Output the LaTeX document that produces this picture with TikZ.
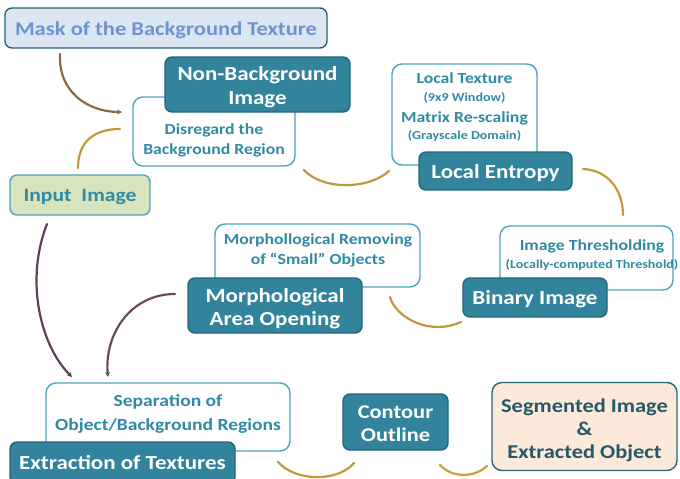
\documentclass[tikz,border=0pt]{standalone}
\usepackage{fontspec}
\setmainfont{Carlito}[FakeStretch=1.15]
\usetikzlibrary{arrows.meta}
\definecolor{tealD}{HTML}{31849B}
\definecolor{tealB}{HTML}{23667A}
\definecolor{tealL}{HTML}{4BA3BC}
\definecolor{tealT}{HTML}{2F8AA3}
\definecolor{maskfill}{HTML}{DCE6F2}
\definecolor{masktext}{HTML}{6F93D0}
\definecolor{inputfill}{HTML}{D7E4BD}
\definecolor{segfill}{HTML}{FDE9D9}
\definecolor{segtext}{HTML}{215968}
\definecolor{goldC}{HTML}{C39A3A}
\definecolor{brownC}{HTML}{8E6A3E}
\definecolor{purpC}{HTML}{5E3F5C}
\begin{document}
\begin{tikzpicture}[x=1pt,y=-1pt,
  darkbox/.style={fill=tealD,draw=tealB,line width=1.4pt,rounded corners=7pt,inner sep=0pt},
  dtext/.style={text=white,font=\bfseries\fontsize{20}{23.5}\selectfont,align=center,inner sep=0pt},
  whitebox/.style={fill=white,draw=tealL,line width=1.4pt,rounded corners=10pt,inner sep=0pt},
  wtext/.style={text=tealT,font=\bfseries\fontsize{15.4}{20}\selectfont,align=center,inner sep=0pt},
  stext/.style={text=tealT,font=\bfseries\fontsize{12.2}{14}\selectfont,align=center,inner sep=0pt},
  conn/.style={line width=2.2pt,line cap=round},
  tip/.style={-{Stealth[length=5pt,width=5pt]}}
]
\useasboundingbox (0,0) rectangle (680,479);

% connectors
\coordinate (a1) at (60,54); \coordinate (a2) at (122,112);
\draw[conn,brownC,tip] (a1) .. controls (58,92) and (88,112) .. (a2);
\coordinate (b1) at (78,168); \coordinate (b2) at (120,129);
\draw[conn,goldC] (b1) .. controls (78,140) and (96,129) .. (b2);
\coordinate (c1) at (304,170); \coordinate (c2) at (389,171);
\draw[conn,goldC!85!brown] (c1) .. controls (322,190) and (368,190) .. (c2);
\coordinate (d1) at (583,169); \coordinate (d2) at (623,215);
\draw[conn,goldC] (d1) .. controls (608,170) and (623,190) .. (d2);
\coordinate (e1) at (461,322); \coordinate (e2) at (390,297);
\draw[conn,goldC!85!brown] (e1) .. controls (430,336) and (396,318) .. (e2);
\coordinate (f1) at (47,224); \coordinate (f2) at (72,377);
\draw[conn,purpC,tip] (f1) .. controls (25,280) and (40,345) .. (f2);
\coordinate (g1) at (175,294); \coordinate (g2) at (108,377);
\draw[conn,purpC!70!brownC,tip] (g1) .. controls (130,294) and (104,335) .. (g2);
\coordinate (h1) at (278,462); \coordinate (h2) at (354,463);
\draw[conn,goldC!85!brown] (h1) .. controls (296,482) and (338,482) .. (h2);
\coordinate (i1) at (440,465); \coordinate (i2) at (487,466);
\draw[conn,goldC!90!yellow] (i1) .. controls (452,478) and (474,478) .. (i2);

% mask
\node[fill=maskfill,draw=tealB,line width=1.4pt,rounded corners=7pt,minimum width=322pt,minimum height=40pt,inner sep=0pt] (mask) at (166,28) {};
\node[text=masktext,font=\bfseries\fontsize{19.6}{23}\selectfont,inner sep=0pt] (maskT) at (166,30) {Mask of the Background Texture};

% disregard + non-background
\node[whitebox,minimum width=162pt,minimum height=69pt] (disreg) at (214,131.5) {};
\node[wtext] (disregT) at (214,140) {Disregard the\\Background Region};
\node[darkbox,minimum width=185pt,minimum height=55pt] (nonbg) at (257.5,84.5) {};
\node[dtext] (nonbgT) at (257.5,87) {Non-Background\\Image};

% input
\node[fill=inputfill,draw=tealL,line width=1.4pt,rounded corners=7pt,minimum width=140pt,minimum height=40pt,inner sep=0pt] (input) at (80,195) {};
\node[text=tealT,font=\bfseries\fontsize{18.8}{23}\selectfont,inner sep=0pt] (inputT) at (80,197) {Input\ \ Image};

% local texture + local entropy
\node[whitebox,minimum width=145pt,minimum height=101pt] (ltex) at (464.5,114.5) {};
\node[wtext] (ltex1) at (464.5,78) {Local Texture};
\node[stext] (ltex2) at (464.5,98) {(9x9 Window)};
\node[wtext] (ltex3) at (464.5,118) {Matrix Re-scaling};
\node[stext] (ltex4) at (464.5,136) {(Grayscale Domain)};
\node[darkbox,minimum width=153pt,minimum height=38pt] (lent) at (495.5,171) {};
\node[dtext] (lentT) at (495.5,173) {Local Entropy};

% thresholding + binary
\node[whitebox,minimum width=173pt,minimum height=64pt] (thr) at (586.5,258) {};
\node[wtext] (thr1) at (592,246) {Image Thresholding};
\node[stext] (thr2) at (592,265) {(Locally-computed Threshold)};
\node[darkbox,minimum width=144pt,minimum height=39pt] (bin) at (535,297.5) {};
\node[dtext] (binT) at (535,299) {Binary Image};

% morph
\node[whitebox,minimum width=205pt,minimum height=63pt] (mrem) at (317.5,255.5) {};
\node[wtext] (mremT) at (318,250.5) {Morphollogical Removing\\of ``Small'' Objects};
\node[darkbox,minimum width=174pt,minimum height=55pt] (mao) at (275,305.5) {};
\node[dtext] (maoT) at (275,308.5) {Morphological\\Area Opening};

% separation + extraction
\node[whitebox,minimum width=244pt,minimum height=68pt] (sep) at (168,417) {};
\node[wtext,font=\bfseries\fontsize{17}{24}\selectfont] (sepT) at (168,414) {Separation of\\Object/Background Regions};
\node[darkbox,minimum width=225pt,minimum height=42pt] (ext) at (122.5,463) {};
\node[dtext] (extT) at (122.5,463) {Extraction of Textures};

% contour
\node[darkbox,minimum width=105pt,minimum height=56pt] (cont) at (395.5,422) {};
\node[dtext,font=\bfseries\fontsize{19.5}{23}\selectfont] (contT) at (395.5,424) {Contour\\Outline};

% segmented
\node[fill=segfill,draw=tealB,line width=1.4pt,rounded corners=10pt,minimum width=185pt,minimum height=88pt,inner sep=0pt] (seg) at (584.5,426.5) {};
\node[text=segtext,font=\bfseries\fontsize{19.5}{23}\selectfont,align=center,inner sep=0pt] (segT) at (584.5,430.5)
  {Segmented Image\\\&\\Extracted Object};
\end{tikzpicture}
\end{document}
